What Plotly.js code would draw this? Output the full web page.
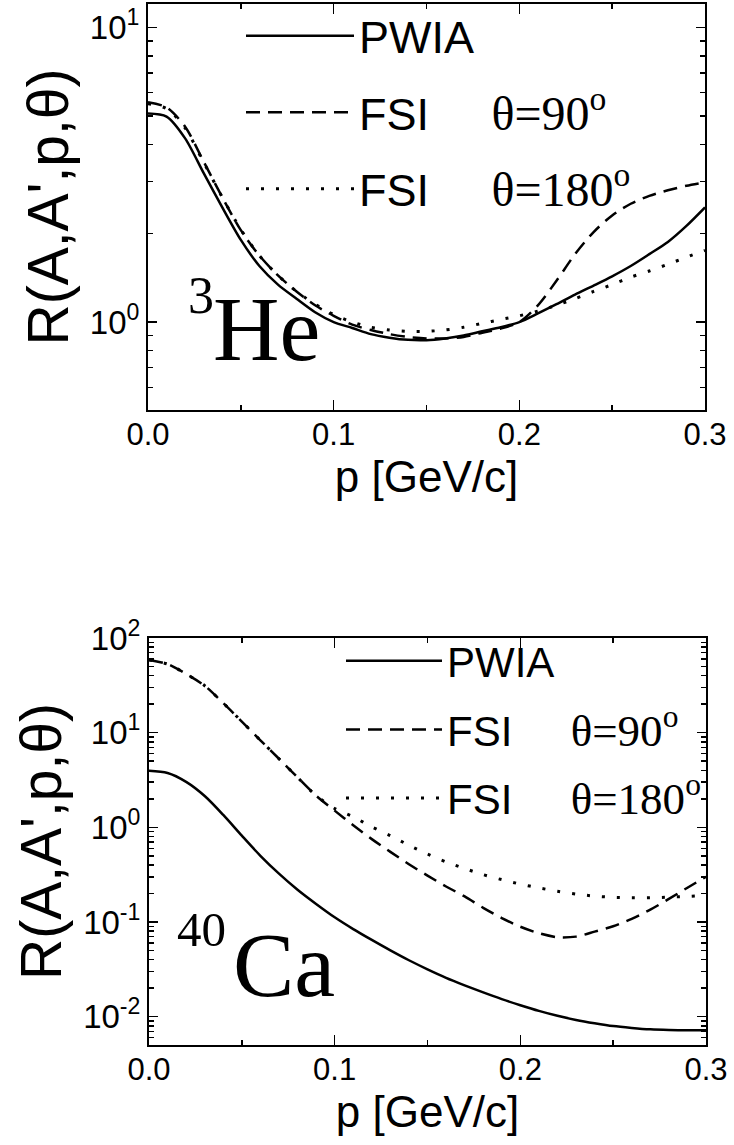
<!DOCTYPE html>
<html>
<head>
<meta charset="utf-8">
<script src="https://cdn.plot.ly/plotly-3.0.1.min.js"></script>
<style>html,body{margin:0;padding:0;background:#fff;}#chart{width:734px;height:1145px;}</style>
</head>
<body>
<div id="chart"></div>
<script>
// ---------- data ----------
const p = [0,0.01,0.02,0.03,0.04,0.05,0.06,0.07,0.08,0.09,0.10,0.11,0.12,0.13,0.14,0.15,0.16,0.17,0.18,0.19,0.20,0.21,0.22,0.23,0.24,0.25,0.26,0.27,0.28,0.29,0.30];

// 3He
const he_pwia  = [5.10,4.98,4.20,3.20,2.45,1.90,1.55,1.34,1.20,1.08,1.00,0.955,0.91,0.885,0.87,0.868,0.88,0.90,0.93,0.96,1.00,1.07,1.15,1.24,1.33,1.43,1.55,1.70,1.87,2.12,2.45];
const he_fsi90 = [5.57,5.35,4.60,3.50,2.65,2.05,1.68,1.44,1.27,1.14,1.05,0.98,0.94,0.91,0.89,0.88,0.88,0.89,0.92,0.95,1.00,1.14,1.38,1.70,2.02,2.30,2.52,2.68,2.80,2.90,2.98];
const he_fsi180= [5.50,5.30,4.55,3.48,2.65,2.06,1.68,1.44,1.27,1.15,1.06,1.00,0.96,0.94,0.93,0.93,0.94,0.96,0.99,1.02,1.05,1.09,1.14,1.20,1.27,1.34,1.42,1.49,1.57,1.66,1.75];

// 40Ca
const ca_pwia  = [3.95,3.75,3.02,2.14,1.35,0.815,0.50,0.324,0.219,0.155,0.112,0.0841,0.0646,0.0501,0.0394,0.0316,0.0257,0.0214,0.0180,0.0153,0.0132,0.0115,0.0102,0.00923,0.00851,0.00794,0.00759,0.00733,0.00721,0.00716,0.00716];
const ca_fsi90 = [58.6,53,41.7,31.3,20.5,13.1,8.3,5.3,3.37,2.16,1.50,1.05,0.75,0.55,0.407,0.309,0.237,0.186,0.141,0.11,0.089,0.076,0.069,0.070,0.079,0.090,0.108,0.135,0.175,0.23,0.30];
const ca_fsi180= [58.6,53,41.7,31.3,20.5,13.1,8.3,5.3,3.37,2.16,1.58,1.29,1.01,0.817,0.646,0.521,0.431,0.367,0.316,0.28,0.251,0.229,0.211,0.197,0.1875,0.182,0.180,0.180,0.183,0.186,0.19];

// tick labels
const xTickVals = [0,0.1,0.2,0.3];
const xTickText = ['0.0','0.1','0.2','0.3'];
const heTickVals = [1,10];
const heTickText = ['10<sup>0</sup>','10<sup>1</sup>'];
const caTickVals = [0.01,0.1,1,10,100];
const caTickText = ['10<sup>-2</sup>','10<sup>-1</sup>','10<sup>0</sup>','10<sup>1</sup>','10<sup>2</sup>'];

const serifSpan = (s, size) => '<span style="font-family:\'Liberation Serif\',\'Times New Roman\',serif;font-size:' + size + 'px">' + s + '</span>';
const GAP = '\u00a0\u00a0\u00a0\u00a0\u00a0';
const namesHe = ['PWIA',
  'FSI' + GAP + serifSpan('\u03b8=90<sup>o</sup>', 48),
  'FSI' + GAP + serifSpan('\u03b8=180<sup>o</sup>', 48)];
const namesCa = ['PWIA',
  'FSI' + GAP + serifSpan('\u03b8=90<sup>o</sup>', 45),
  'FSI' + GAP + serifSpan('\u03b8=180<sup>o</sup>', 45)];

// ---------- helpers ----------
function minorVals(lo, hi){
  const out=[];
  for(let e=lo;e<hi;e++){ for(let k=2;k<=9;k++){ out.push(k*Math.pow(10,e)); } }
  return out;
}
const W=734,H=1145;
const px=x=>x/W, py=y=>1-y/H;

const solid={color:'#000',width:2.5,dash:'solid',shape:'spline',smoothing:0.8};
const dashHe={color:'#000',width:2.5,dash:'14px,8px',shape:'spline',smoothing:0.8};
const dashCa={color:'#000',width:2.5,dash:'14px,8px',shape:'spline',smoothing:0.8};
const dot1={color:'#000',width:3,dash:'3px,12px',shape:'spline',smoothing:0.8};

const traces=[
  {x:p,y:he_pwia,  mode:'lines',line:solid, name:namesHe[0],xaxis:'x',yaxis:'y',legend:'legend',legendgroup:'a1'},
  {x:p,y:he_fsi90, mode:'lines',line:dashHe,name:namesHe[1],xaxis:'x',yaxis:'y',legend:'legend',legendgroup:'a2'},
  {x:p,y:he_fsi180,mode:'lines',line:dot1,  name:namesHe[2],xaxis:'x',yaxis:'y',legend:'legend',legendgroup:'a3'},
  {x:p,y:ca_pwia,  mode:'lines',line:solid, name:namesCa[0],xaxis:'x2',yaxis:'y2',legend:'legend2',legendgroup:'b1'},
  {x:p,y:ca_fsi90, mode:'lines',line:dashCa,name:namesCa[1],xaxis:'x2',yaxis:'y2',legend:'legend2',legendgroup:'b2'},
  {x:p,y:ca_fsi180,mode:'lines',line:dot1,  name:namesCa[2],xaxis:'x2',yaxis:'y2',legend:'legend2',legendgroup:'b3'}
];

const SANS='Liberation Sans, Arial, sans-serif';
function xAxis(domain, anchor, standoff){
  return {domain:domain, anchor:anchor, range:[0,0.3], tickmode:'array', tickvals:xTickVals, ticktext:xTickText,
    ticks:'inside', ticklen:10, tickwidth:1.5, tickcolor:'#000', showline:true, linewidth:2, linecolor:'#000',
    mirror:'ticks', showgrid:false, zeroline:false, tickfont:{family:SANS,size:31,color:'#000'}, ticklabelstandoff:-4,
    minor:{dtick:0.05, tick0:0, ticks:'inside', ticklen:5, tickwidth:1.5, tickcolor:'#000', showgrid:false},
    title:{text:'p [GeV/c]', font:{family:SANS,size:44,color:'#000'}, standoff:standoff}};
}
function yAxis(domain, anchor, range, tv, tt, mv){
  return {domain:domain, anchor:anchor, type:'log', range:range, tickmode:'array', tickvals:tv, ticktext:tt,
    ticks:'inside', ticklen:9, tickwidth:1.5, tickcolor:'#000', showline:true, linewidth:2, linecolor:'#000',
    mirror:'ticks', showgrid:false, zeroline:false, tickfont:{family:SANS,size:33,color:'#000'},
    minor:{tickmode:'array', tickvals:mv, ticks:'inside', ticklen:5, tickwidth:1.5, tickcolor:'#000', showgrid:false},
    title:{text:'R(A,A\',p,\u03b8)', font:{family:SANS,size:57,color:'#000'}, standoff:3}};
}

const layout={
  width:W, height:H, margin:{l:0,r:0,t:0,b:0}, paper_bgcolor:'#fff', plot_bgcolor:'#fff', showlegend:true,
  xaxis: xAxis([px(148),px(705)],'y',0),
  yaxis: yAxis([py(410),py(4)],'x',[Math.log10(0.503),Math.log10(12)],heTickVals,heTickText,minorVals(-1,1).filter(v=>v>0.55)),
  xaxis2: xAxis([px(149),px(706)],'y2',10),
  yaxis2: yAxis([py(1045),py(638)],'x2',[-2.3,2.0],caTickVals,caTickText,minorVals(-3,2).filter(v=>v>0.0049)),
  legend:{x:px(241),y:1,xanchor:'left',yanchor:'top',bgcolor:'rgba(0,0,0,0)',borderwidth:0,
    font:{family:SANS,size:45,color:'#000'},itemwidth:108,tracegroupgap:15,traceorder:'grouped'},
  legend2:{x:px(341),y:py(627),xanchor:'left',yanchor:'top',bgcolor:'rgba(0,0,0,0)',borderwidth:0,
    font:{family:SANS,size:42,color:'#000'},itemwidth:96,tracegroupgap:11,traceorder:'grouped'},
  annotations:[
    {text:'3',xref:'paper',yref:'paper',x:px(186),y:py(295),xanchor:'left',yanchor:'middle',showarrow:false,
     font:{family:'Liberation Serif, Times New Roman, serif',size:52,color:'#000'}},
    {text:'He',xref:'paper',yref:'paper',x:px(211),y:py(329),xanchor:'left',yanchor:'middle',showarrow:false,
     font:{family:'Liberation Serif, Times New Roman, serif',size:92,color:'#000'}},
    {text:'40',xref:'paper',yref:'paper',x:px(175),y:py(929),xanchor:'left',yanchor:'middle',showarrow:false,
     font:{family:'Liberation Serif, Times New Roman, serif',size:49,color:'#000'}},
    {text:'Ca',xref:'paper',yref:'paper',x:px(231),y:py(965),xanchor:'left',yanchor:'middle',showarrow:false,
     font:{family:'Liberation Serif, Times New Roman, serif',size:92,color:'#000'}}
  ]
};

Plotly.newPlot('chart', traces, layout, {staticPlot:true, displayModeBar:false});
</script>
</body>
</html>
